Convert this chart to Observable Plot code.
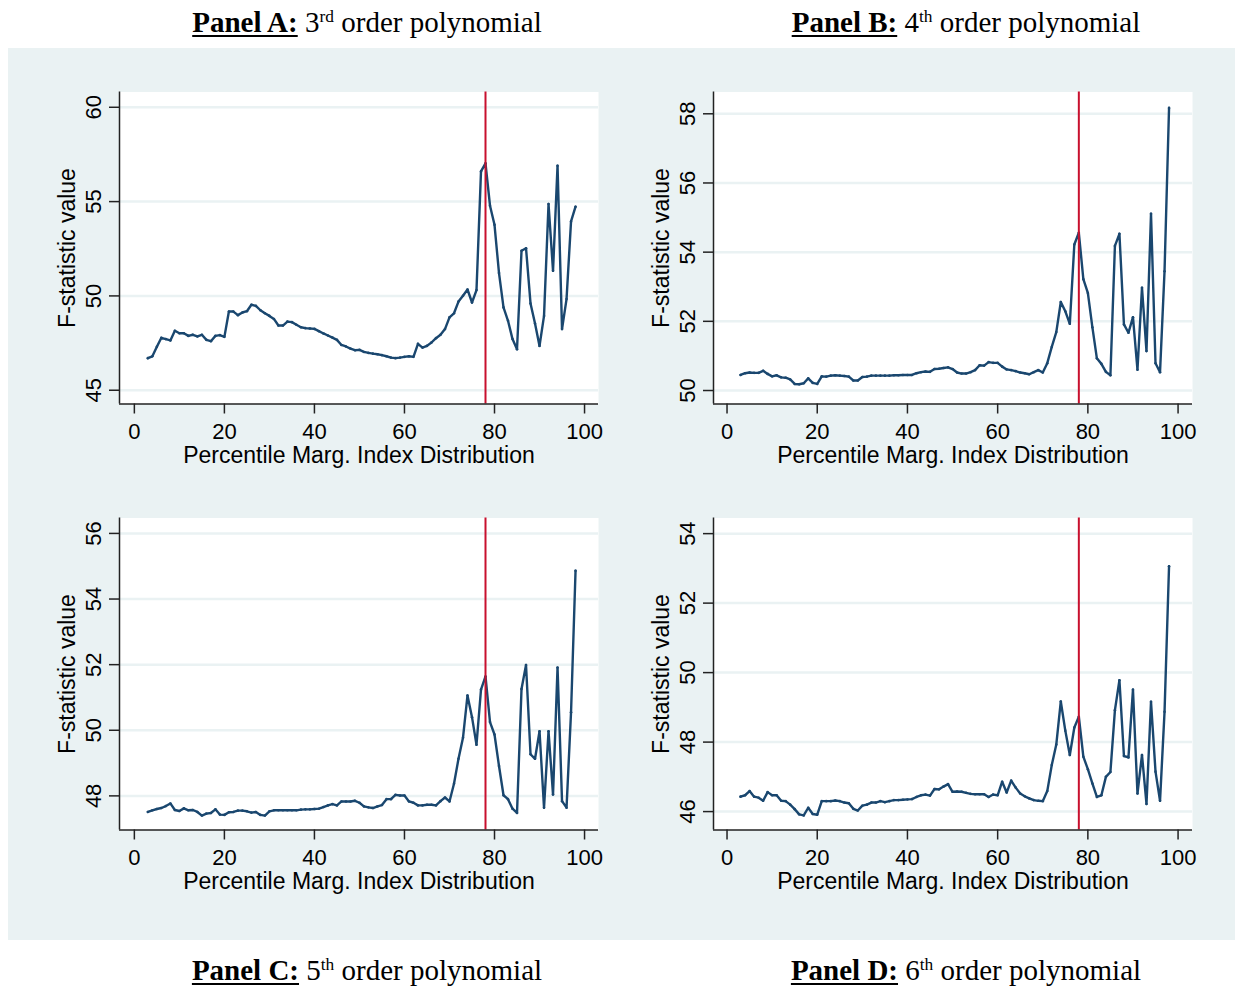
<!DOCTYPE html>
<html>
<head>
<meta charset="utf-8">
<script src="https://cdn.jsdelivr.net/npm/d3@7"></script>
<script src="https://cdn.jsdelivr.net/npm/@observablehq/plot@0.6"></script>
<style>
  html, body { margin: 0; padding: 0; background: #ffffff; }
  #page { position: relative; width: 1235px; height: 987px; overflow: hidden; }
  #bg { position: absolute; left: 8px; top: 48px; width: 1227px; height: 892px; background: #eaf2f3; }
  .panel { position: absolute; }
  .title { position: absolute; width: 600px; text-align: center; font-family: "Liberation Serif", "Times New Roman", serif; font-size: 29px; line-height: 29px; color: #000; white-space: nowrap; }
  .title b { text-decoration: underline; text-decoration-thickness: 2px; text-underline-offset: 3px; }
  .title sup { font-size: 0.6em; vertical-align: 0.6em; line-height: 0; }
</style>
</head>
<body>
<div id="page">
  <div id="bg"></div>
  <div class="title" style="left:67px; top:8px;"><b>Panel A:</b> 3<sup>rd</sup> order polynomial</div>
  <div class="title" style="left:666px; top:8px;"><b>Panel B:</b> 4<sup>th</sup> order polynomial</div>
  <div class="title" style="left:67px; top:956px;"><b>Panel C:</b> 5<sup>th</sup> order polynomial</div>
  <div class="title" style="left:666px; top:956px;"><b>Panel D:</b> 6<sup>th</sup> order polynomial</div>
  <div class="panel" id="pA" style="left:8px; top:48px;"></div>
  <div class="panel" id="pB" style="left:602px; top:48px;"></div>
  <div class="panel" id="pC" style="left:8px; top:474px;"></div>
  <div class="panel" id="pD" style="left:602px; top:474px;"></div>
</div>
<script>
// Percentile of the marginal index distribution (x values)
const pct = [3,4,5,6,7,8,9,10,11,12,13,14,15,16,17,18,19,20,
  21,22,23,24,25,26,27,28,29,30,31,32,33,34,35,36,37,38,39,40,
  41,42,43,44,45,46,47,48,49,50,51,52,53,54,55,56,57,58,59,60,
  61,62,63,64,65,66,67,68,69,70,71,72,73,74,75,76,77,78,79,80,
  81,82,83,84,85,86,87,88,89,90,91,92,93,94,95,96,97,98];

// Panel A: 3rd order polynomial F-statistics
const fA = [46.70,46.80,47.30,47.78,47.71,47.64,48.15,48.02,48.02,47.88,47.94,47.85,47.94,47.67,47.60,47.88,47.92,47.83,
  49.17,49.17,48.98,49.12,49.19,49.53,49.47,49.24,49.08,48.94,48.78,48.43,48.43,48.64,48.61,48.47,48.34,48.29,48.27,48.25,
  48.13,48.01,47.90,47.79,47.67,47.40,47.32,47.21,47.12,47.14,47.03,46.98,46.94,46.91,46.86,46.80,46.73,46.70,46.73,46.77,
  46.80,46.77,47.46,47.26,47.35,47.53,47.76,47.94,48.24,48.86,49.08,49.70,50.01,50.34,49.65,50.31,56.60,57.03,54.78,53.77,
  51.21,49.39,48.68,47.71,47.17,52.39,52.53,49.60,48.54,47.35,48.94,54.87,51.33,56.90,48.24,49.83,53.95,54.73];

// Panel B: 4th order polynomial
const fB = [50.45,50.50,50.52,50.51,50.51,50.57,50.48,50.41,50.44,50.38,50.37,50.32,50.19,50.18,50.21,50.35,50.22,50.19,
  50.41,50.40,50.43,50.44,50.43,50.42,50.40,50.29,50.29,50.39,50.40,50.43,50.43,50.43,50.43,50.43,50.44,50.44,50.45,50.45,
  50.45,50.50,50.53,50.55,50.54,50.62,50.63,50.65,50.67,50.62,50.52,50.49,50.49,50.53,50.59,50.73,50.72,50.82,50.80,50.80,
  50.69,50.61,50.59,50.56,50.52,50.50,50.47,50.53,50.59,50.52,50.79,51.26,51.69,52.56,52.29,51.93,54.22,54.56,53.22,52.82,
  51.83,50.93,50.77,50.54,50.44,54.18,54.53,51.91,51.67,52.12,50.60,52.97,51.14,55.11,50.79,50.53,53.45,58.17];

// Panel C: 5th order polynomial
const fC = [47.51,47.56,47.60,47.63,47.69,47.77,47.57,47.54,47.62,47.56,47.57,47.51,47.40,47.46,47.48,47.59,47.43,47.42,
  47.50,47.51,47.55,47.55,47.53,47.49,47.51,47.42,47.40,47.53,47.56,47.56,47.56,47.56,47.56,47.56,47.58,47.59,47.59,47.60,
  47.61,47.66,47.71,47.75,47.71,47.83,47.83,47.83,47.85,47.79,47.68,47.65,47.63,47.68,47.72,47.90,47.90,48.03,48.01,48.01,
  47.83,47.79,47.71,47.71,47.73,47.73,47.71,47.84,47.95,47.83,48.37,49.13,49.77,51.06,50.40,49.56,51.24,51.64,50.25,49.87,
  48.91,48.02,47.90,47.61,47.48,51.26,51.99,49.27,49.13,49.97,47.64,49.97,48.04,51.91,47.84,47.64,50.55,54.86];

// Panel D: 6th order polynomial
const fD = [46.43,46.47,46.59,46.43,46.40,46.31,46.56,46.47,46.47,46.31,46.30,46.20,46.07,45.92,45.89,46.11,45.93,45.91,
  46.30,46.30,46.30,46.32,46.30,46.26,46.24,46.08,46.03,46.17,46.20,46.26,46.26,46.30,46.27,46.30,46.33,46.33,46.34,46.35,
  46.36,46.42,46.47,46.49,46.46,46.65,46.64,46.72,46.79,46.57,46.58,46.57,46.54,46.51,46.50,46.50,46.50,46.42,46.49,46.47,
  46.86,46.55,46.89,46.69,46.52,46.44,46.38,46.33,46.31,46.30,46.59,47.34,47.93,49.17,48.33,47.63,48.42,48.73,47.58,47.22,
  46.81,46.42,46.47,47.00,47.14,48.92,49.78,47.60,47.56,49.51,46.52,47.63,46.22,49.16,47.15,46.31,48.87,53.06];

// Tick labels and axis titles
const xTicks = [0, 20, 40, 60, 80, 100];
const yTicksA = [45, 50, 55, 60];
const yTicksB = [50, 52, 54, 56, 58];
const yTicksC = [48, 50, 52, 54, 56];
const yTicksD = [46, 48, 50, 52, 54];
const cutoff = [78];
const xTitle = ["Percentile Marg. Index Distribution"];
const yTitle = ["F-statistic value"];

const navy = "#1a476f";
const red = "#c8102e";
const gridColor = "#eaf2f3";

function panel(values, yTicks, xDomain, yDomain) {
  const data = pct.map((p, i) => ({p, f: values[i]}));
  return Plot.plot({
    width: 600,
    height: 420,
    marginLeft: 111,
    marginRight: 10,
    marginTop: 43.5,
    marginBottom: 64.5,
    style: {background: "transparent", fontFamily: "'Liberation Sans', Arial, sans-serif", fontSize: "22px", color: "#000", overflow: "visible"},
    x: {domain: xDomain},
    y: {domain: yDomain},
    marks: [
      Plot.frame({fill: "white", stroke: null}),
      Plot.gridY(yTicks, {stroke: gridColor, strokeOpacity: 1, strokeWidth: 2.5}),
      Plot.line(data, {x: "p", y: "f", stroke: navy, strokeWidth: 2.4}),
      Plot.dot(data, {x: "p", y: "f", r: 1.3, fill: navy}),
      Plot.ruleX(cutoff, {stroke: red, strokeWidth: 2}),
      Plot.axisX(xTicks, {tickSize: 10, tickPadding: 9, strokeWidth: 1.5, stroke: "#222", fill: "#000", fontSize: 22, label: null}),
      Plot.axisY(yTicks, {tickSize: 10, tickRotate: -90, tickPadding: 9, strokeWidth: 1.5, stroke: "#222", fill: "#000", fontSize: 22, label: null}),
      Plot.text(xTitle, {frameAnchor: "bottom", dy: 52, textAnchor: "middle", lineAnchor: "middle", fontSize: 23, fill: "#000"}),
      Plot.text(yTitle, {frameAnchor: "left", dx: -52, rotate: -90, textAnchor: "middle", lineAnchor: "middle", fontSize: 23, fill: "#000"}),
      Plot.ruleX([xDomain[0]], {stroke: "#222", strokeWidth: 1.5}),
      Plot.ruleY([yDomain[0]], {stroke: "#222", strokeWidth: 1.5})
    ]
  });
}

document.getElementById("pA").append(panel(fA, yTicksA, [-3.3, 103.1], [44.27, 60.81]));
document.getElementById("pB").append(panel(fB, yTicksB, [-3.0, 103.2], [49.61, 58.63]));
document.getElementById("pC").append(panel(fC, yTicksC, [-3.3, 103.1], [46.96, 56.47]));
document.getElementById("pD").append(panel(fD, yTicksD, [-3.0, 103.2], [45.47, 54.45]));
</script>
</body>
</html>
